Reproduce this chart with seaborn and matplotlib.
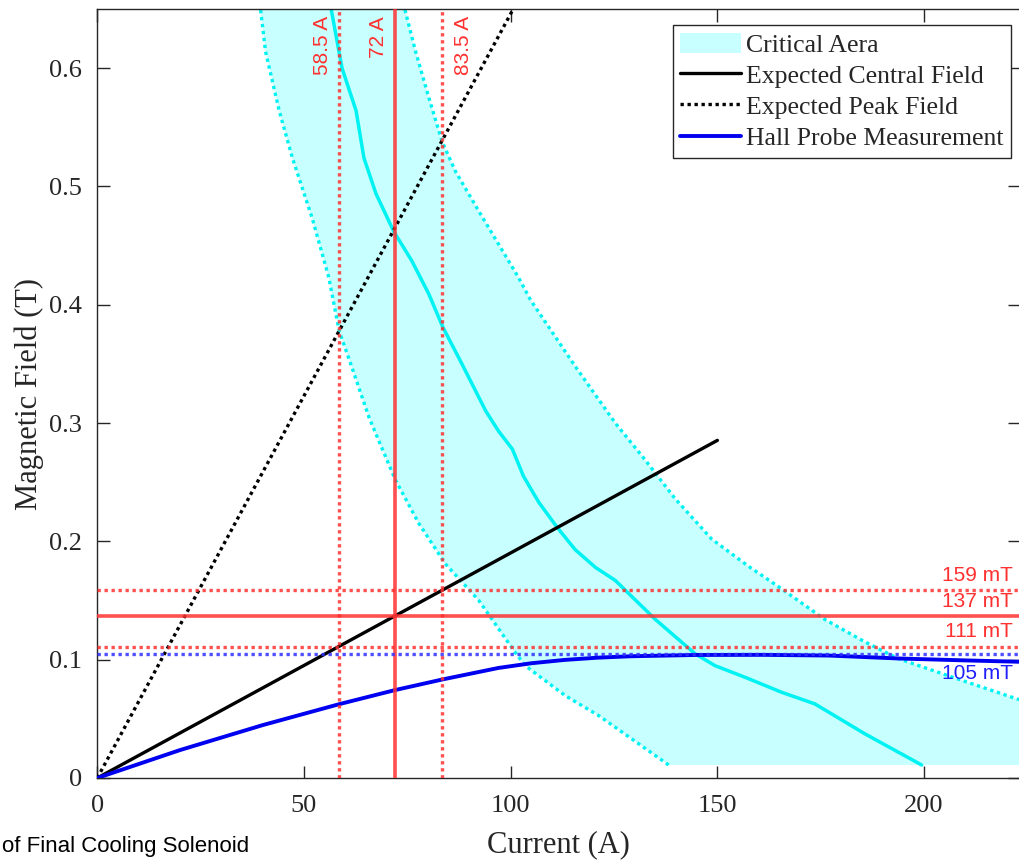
"""
plot.py
-------
Critical-area chart of the cooling solenoid: expected fields, Hall probe
measurement and the operating point markers.
"""
import matplotlib
matplotlib.use("Agg")

import matplotlib.pyplot as plt
from matplotlib.lines import Line2D
from matplotlib.patches import Patch
import pandas as pd
import seaborn as sns


# ─────────────────────────────────────────────
# Data
# ─────────────────────────────────────────────
# Critical curve (solid cyan)
CRIT_I = [56.3, 59.2, 62.6, 64.5, 67.4, 71.7, 76.1, 80.2, 83.6, 88.2, 94.0,
          97.1, 100.4, 103.1, 106.8, 111.2, 115.6, 120.5, 125.3, 135.0, 144.6,
          149.4, 157.5, 165.5, 173.6, 185.7, 199.4]
CRIT_B = [0.655, 0.600, 0.564, 0.524, 0.494, 0.462, 0.437, 0.409, 0.381, 0.350,
          0.310, 0.293, 0.278, 0.255, 0.233, 0.212, 0.193, 0.178, 0.167, 0.134,
          0.105, 0.095, 0.084, 0.0725, 0.0626, 0.0373, 0.011]

# Upper bound of the critical area (dotted cyan)
UPPER_I = [74.0, 77.0, 80.2, 83.4, 86.6, 92.3, 97.1, 101.9, 104.8, 115.6, 125.3,
           132.5, 139.8, 148.6, 157.5, 165.5, 176.0, 185.7, 193.7, 205.8, 222.5, 230.0]
UPPER_B = [0.655, 0.614, 0.575, 0.538, 0.513, 0.479, 0.451, 0.423, 0.404, 0.348,
           0.300, 0.269, 0.236, 0.202, 0.179, 0.160, 0.134, 0.115, 0.101, 0.0865,
           0.0668, 0.060]

# Lower bound of the critical area (dotted cyan)
LOWER_I = [39.3, 40.7, 44.0, 47.2, 52.0, 56.0, 58.5, 61.6, 65.7, 68.1, 72.1,
           77.8, 84.2, 92.3, 101.1, 103.5, 113.2, 121.3, 129.3, 138.2]
LOWER_B = [0.655, 0.614, 0.564, 0.524, 0.473, 0.423, 0.378, 0.347, 0.305, 0.285,
           0.252, 0.215, 0.181, 0.150, 0.106, 0.095, 0.0696, 0.0527, 0.033, 0.011]
CRIT_FLOOR = 0.011

# Expected fields (straight lines from the origin)
CENTRAL_I = [0.0, 150.0]
CENTRAL_B = [0.0, 0.2854]
PEAK_I = [0.0, 110.0]
PEAK_B = [0.0, 0.7106]

# Hall probe measurement
HALL_I = [0.0, 20.0, 40.0, 58.5, 72.0, 83.5, 97.0, 105.0, 113.0, 121.0, 129.0,
          145.0, 161.0, 177.0, 194.0, 210.0, 222.5, 230.0]
HALL_B = [0.0, 0.0236, 0.0447, 0.0624, 0.0743, 0.0833, 0.0930, 0.0970, 0.0998,
          0.1017, 0.1029, 0.1040, 0.1041, 0.1035, 0.1010, 0.0994, 0.0983, 0.0978]

# Marker lines
CURRENT_MARKS = [58.5, 72.0, 83.5]          # A
CURRENT_LABELS = ["58.5 A", "72 A", "83.5 A"]
CURRENT_SOLID = [False, True, False]
FIELD_MARKS = [0.159, 0.137, 0.111]         # T
FIELD_LABELS = ["159 mT", "137 mT", "111 mT"]
FIELD_SOLID = [False, True, False]
HALL_MARK = 0.105
HALL_LABEL = "105 mT"

X_TICKS = [0, 50, 100, 150, 200]
Y_TICKS = [0, 0.1, 0.2, 0.3, 0.4, 0.5, 0.6]
Y_TICK_LABELS = ["0", "0.1", "0.2", "0.3", "0.4", "0.5", "0.6"]

LEGEND_LABELS = ["Critical Aera", "Expected Central Field",
                 "Expected Peak Field", "Hall Probe Measurement"]


# ─────────────────────────────────────────────
# Style
# ─────────────────────────────────────────────
sns.set_style("ticks")
plt.rcParams["font.family"] = ["Liberation Serif", "DejaVu Serif"]
SANS = ["Liberation Sans", "DejaVu Sans"]

FILL_C = "#c8ffff"
CYAN = "#00f2f2"
RED = "#ff3030"
BLUE = "#0000f0"
GREY = "#262626"
DOT = (0, (1, 1.1))   # matlab-like dense dotted line


def main() -> None:
    W, H = 1019, 861
    fig = plt.figure(figsize=(W / 100, H / 100), dpi=100)
    left, right, top, bottom = 97.3, 1020.0, 9.0, 778.0
    ax = fig.add_axes([left / W, 1 - bottom / H, (right - left) / W, (bottom - top) / H])

    # critical area
    poly_i = UPPER_I + [UPPER_I[-1], LOWER_I[-1]] + LOWER_I[::-1]
    poly_b = UPPER_B + [CRIT_FLOOR, CRIT_FLOOR] + LOWER_B[::-1]
    ax.fill(poly_i, poly_b, color=FILL_C, lw=0, zorder=1)

    crit = pd.DataFrame({"I": CRIT_I, "B": CRIT_B})
    upper = pd.DataFrame({"I": UPPER_I, "B": UPPER_B})
    lower = pd.DataFrame({"I": LOWER_I, "B": LOWER_B})
    sns.lineplot(data=crit, x="I", y="B", ax=ax, color=CYAN, lw=2.5,
                 sort=False, estimator=None, zorder=2)
    for df in (upper, lower):
        sns.lineplot(data=df, x="I", y="B", ax=ax, color=CYAN, lw=2.4,
                     ls=DOT, sort=False, estimator=None, zorder=2)

    # expected fields
    sns.lineplot(x=CENTRAL_I, y=CENTRAL_B, ax=ax, color="black", lw=2.4,
                 estimator=None, zorder=3)
    sns.lineplot(x=PEAK_I, y=PEAK_B, ax=ax, color="black", lw=2.4, ls=DOT,
                 estimator=None, zorder=3)

    # hall probe
    sns.lineplot(x=HALL_I, y=HALL_B, ax=ax, color=BLUE, lw=2.8,
                 estimator=None, zorder=4)

    # marker lines
    for val, solid in zip(CURRENT_MARKS, CURRENT_SOLID):
        ax.axvline(val, color=RED, alpha=0.85, lw=2.6 if solid else 2.4,
                   ls="-" if solid else DOT, zorder=5)
    for val, solid in zip(FIELD_MARKS, FIELD_SOLID):
        ax.axhline(val, color=RED, alpha=0.85, lw=2.6 if solid else 2.4,
                   ls="-" if solid else DOT, zorder=5)
    ax.axhline(HALL_MARK, color="#3030ff", alpha=0.85, lw=2.4, ls=DOT, zorder=5)

    # marker labels
    label_x = [54.5, 68.0, 88.5]
    for xv, txt in zip(label_x, CURRENT_LABELS):
        ax.text(xv, 0.644, txt, rotation=90, ha="center", va="top",
                color=RED, fontsize=15, family=SANS, zorder=6)
    for val, txt in zip(FIELD_MARKS, FIELD_LABELS):
        ax.text(221.5, val + 0.0045, txt, ha="right", va="bottom",
                color=RED, fontsize=15, family=SANS, zorder=6)
    ax.text(221.5, HALL_MARK - 0.0085, HALL_LABEL, ha="right", va="top",
            color="#2020ff", fontsize=15, family=SANS, zorder=6)

    # axes
    ax.set_xlim(0, (right - left) / 4.134)
    ax.set_ylim(0, 0.65)
    ax.set_xticks(X_TICKS)
    ax.set_yticks(Y_TICKS)
    ax.set_yticklabels(Y_TICK_LABELS)
    ax.tick_params(direction="in", length=9, width=1, colors=GREY,
                   labelsize=19, top=True, right=True, pad=12)
    ax.tick_params(axis="y", pad=11)
    for sp in ax.spines.values():
        sp.set_color(GREY)
        sp.set_linewidth(1.0)
        sp.set_visible(True)

    ax.set_xlabel("Current (A)", fontsize=22, color=GREY)
    ax.set_ylabel("Magnetic Field (T)", fontsize=22, color=GREY, va="center")
    ax.xaxis.set_label_coords(0.5, -0.068)
    ax.yaxis.set_label_coords(-0.074, 0.5)

    # legend
    handles = [
        Patch(facecolor=FILL_C, edgecolor="none"),
        Line2D([], [], color="black", lw=2.4),
        Line2D([], [], color="black", lw=2.4, ls=DOT),
        Line2D([], [], color=BLUE, lw=2.8),
    ]
    leg = ax.legend(handles, LEGEND_LABELS, loc="upper right",
                    bbox_to_anchor=(1011 / W, 1 - 25 / H),
                    bbox_transform=fig.transFigure, borderaxespad=0,
                    fontsize=18.5, frameon=True, fancybox=False, framealpha=1,
                    edgecolor=GREY, handlelength=2.35, handleheight=0.85,
                    handletextpad=0.2, labelspacing=0.27, borderpad=0.3)
    leg.get_frame().set_linewidth(1.0)
    for t in leg.get_texts():
        t.set_color(GREY)

    # caption fragment below the plot in the screenshot
    fig.text(0.002, 1 - 836 / H, "of Final Cooling Solenoid", ha="left",
             va="top", fontsize=16, family=SANS, color="black")

    fig.savefig("out.png", dpi=100)
    plt.close(fig)


if __name__ == "__main__":
    main()
